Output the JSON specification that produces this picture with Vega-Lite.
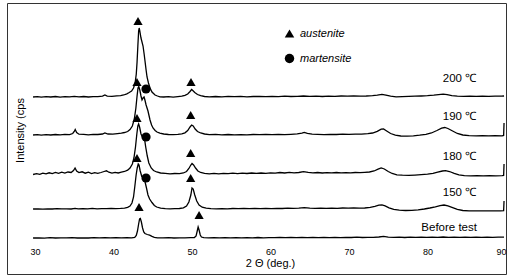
{
  "$schema": "https://vega.github.io/schema/vega-lite/v6.json",
  "width": 499,
  "height": 271,
  "autosize": {"type": "none"},
  "padding": {"left": 7, "top": 3, "right": 2, "bottom": 5},
  "background": "white",
  "config": {"view": {"stroke": "#333333", "strokeWidth": 1}, "font": "Liberation Sans"},
  "datasets": {
    "xrd": [
      {"sample":"200","deg":29.75,"cps":177},{"sample":"200","deg":30.3,"cps":177.4},{"sample":"200","deg":30.8,"cps":176.8},{"sample":"200","deg":31.4,"cps":177.3},{"sample":"200","deg":32.0,"cps":177},{"sample":"200","deg":32.6,"cps":177.5},{"sample":"200","deg":33.2,"cps":176.9},{"sample":"200","deg":33.8,"cps":177.3},{"sample":"200","deg":34.4,"cps":177.1},{"sample":"200","deg":35.0,"cps":177.6},{"sample":"200","deg":35.6,"cps":177.2},{"sample":"200","deg":36.2,"cps":177.5},{"sample":"200","deg":36.8,"cps":177},{"sample":"200","deg":37.4,"cps":177.4},{"sample":"200","deg":38.0,"cps":177.3},{"sample":"200","deg":38.6,"cps":177.8},{"sample":"200","deg":38.9,"cps":179},{"sample":"200","deg":39.2,"cps":177.8},{"sample":"200","deg":39.8,"cps":177.6},{"sample":"200","deg":40.4,"cps":178.2},{"sample":"200","deg":40.9,"cps":178.3},{"sample":"200","deg":41.3,"cps":179},{"sample":"200","deg":41.7,"cps":180.2},{"sample":"200","deg":42.0,"cps":181.5},{"sample":"200","deg":42.3,"cps":183},{"sample":"200","deg":42.55,"cps":186},{"sample":"200","deg":42.75,"cps":191},{"sample":"200","deg":42.9,"cps":200},{"sample":"200","deg":43.0,"cps":212},{"sample":"200","deg":43.1,"cps":228},{"sample":"200","deg":43.2,"cps":243},{"sample":"200","deg":43.27,"cps":246},{"sample":"200","deg":43.35,"cps":243},{"sample":"200","deg":43.5,"cps":236},{"sample":"200","deg":43.76,"cps":228},{"sample":"200","deg":43.9,"cps":220},{"sample":"200","deg":44.01,"cps":213},{"sample":"200","deg":44.15,"cps":204},{"sample":"200","deg":44.27,"cps":197},{"sample":"200","deg":44.45,"cps":191},{"sample":"200","deg":44.65,"cps":186},{"sample":"200","deg":44.9,"cps":182},{"sample":"200","deg":45.29,"cps":179},{"sample":"200","deg":45.6,"cps":178},{"sample":"200","deg":45.92,"cps":177.2},{"sample":"200","deg":46.4,"cps":177},{"sample":"200","deg":47.0,"cps":177.3},{"sample":"200","deg":47.6,"cps":176.9},{"sample":"200","deg":48.2,"cps":177.4},{"sample":"200","deg":48.7,"cps":177.8},{"sample":"200","deg":49.1,"cps":178.6},{"sample":"200","deg":49.45,"cps":180},{"sample":"200","deg":49.75,"cps":182.5},{"sample":"200","deg":49.95,"cps":184.5},{"sample":"200","deg":50.1,"cps":183.5},{"sample":"200","deg":50.35,"cps":181.5},{"sample":"200","deg":50.7,"cps":179.5},{"sample":"200","deg":51.1,"cps":178.3},{"sample":"200","deg":51.6,"cps":177.5},{"sample":"200","deg":52.2,"cps":177.2},{"sample":"200","deg":53.0,"cps":177.5},{"sample":"200","deg":53.8,"cps":177.1},{"sample":"200","deg":54.6,"cps":177.6},{"sample":"200","deg":55.4,"cps":177.3},{"sample":"200","deg":56.2,"cps":177.6},{"sample":"200","deg":57.0,"cps":177.2},{"sample":"200","deg":57.8,"cps":177.5},{"sample":"200","deg":58.6,"cps":177.7},{"sample":"200","deg":59.4,"cps":177.3},{"sample":"200","deg":60.2,"cps":177.6},{"sample":"200","deg":61.0,"cps":177.4},{"sample":"200","deg":61.8,"cps":177.8},{"sample":"200","deg":62.6,"cps":177.5},{"sample":"200","deg":63.4,"cps":177.7},{"sample":"200","deg":64.2,"cps":178},{"sample":"200","deg":65.0,"cps":177.6},{"sample":"200","deg":65.8,"cps":177.8},{"sample":"200","deg":66.6,"cps":177.5},{"sample":"200","deg":67.4,"cps":177.9},{"sample":"200","deg":68.2,"cps":177.7},{"sample":"200","deg":69.0,"cps":178},{"sample":"200","deg":69.8,"cps":177.8},{"sample":"200","deg":70.6,"cps":178.1},{"sample":"200","deg":71.4,"cps":177.9},{"sample":"200","deg":72.2,"cps":178},{"sample":"200","deg":73.0,"cps":178.3},{"sample":"200","deg":73.6,"cps":178.8},{"sample":"200","deg":74.2,"cps":179.6},{"sample":"200","deg":74.7,"cps":178.8},{"sample":"200","deg":75.3,"cps":177.8},{"sample":"200","deg":76.0,"cps":177.2},{"sample":"200","deg":76.8,"cps":177.4},{"sample":"200","deg":77.6,"cps":177.6},{"sample":"200","deg":78.4,"cps":177.8},{"sample":"200","deg":79.2,"cps":178},{"sample":"200","deg":80.0,"cps":178.3},{"sample":"200","deg":80.8,"cps":178.8},{"sample":"200","deg":81.4,"cps":179.3},{"sample":"200","deg":82.0,"cps":179.8},{"sample":"200","deg":82.5,"cps":179.4},{"sample":"200","deg":83.1,"cps":178.4},{"sample":"200","deg":83.8,"cps":177.8},{"sample":"200","deg":84.6,"cps":177.6},{"sample":"200","deg":85.4,"cps":177.8},{"sample":"200","deg":86.2,"cps":177.6},{"sample":"200","deg":87.0,"cps":177.9},{"sample":"200","deg":87.8,"cps":177.7},{"sample":"200","deg":88.6,"cps":177.9},{"sample":"200","deg":89.4,"cps":177.8},{"sample":"200","deg":89.75,"cps":178},

      {"sample":"190","deg":29.75,"cps":139},{"sample":"190","deg":30.3,"cps":139.4},{"sample":"190","deg":30.8,"cps":138.8},{"sample":"190","deg":31.4,"cps":139.3},{"sample":"190","deg":32.0,"cps":139},{"sample":"190","deg":32.6,"cps":139.5},{"sample":"190","deg":33.2,"cps":139.1},{"sample":"190","deg":33.8,"cps":139.6},{"sample":"190","deg":34.4,"cps":139.4},{"sample":"190","deg":34.8,"cps":140.5},{"sample":"190","deg":35.0,"cps":142.5},{"sample":"190","deg":35.12,"cps":144.5},{"sample":"190","deg":35.3,"cps":141.5},{"sample":"190","deg":35.6,"cps":139.8},{"sample":"190","deg":36.2,"cps":139.6},{"sample":"190","deg":36.8,"cps":139.2},{"sample":"190","deg":37.4,"cps":139.7},{"sample":"190","deg":38.0,"cps":139.5},{"sample":"190","deg":38.6,"cps":140},{"sample":"190","deg":38.9,"cps":141},{"sample":"190","deg":39.3,"cps":140},{"sample":"190","deg":39.9,"cps":139.8},{"sample":"190","deg":40.5,"cps":140.3},{"sample":"190","deg":41.0,"cps":140.8},{"sample":"190","deg":41.4,"cps":141.5},{"sample":"190","deg":41.8,"cps":142.5},{"sample":"190","deg":42.1,"cps":144.5},{"sample":"190","deg":42.4,"cps":148},{"sample":"190","deg":42.65,"cps":155},{"sample":"190","deg":42.85,"cps":166},{"sample":"190","deg":43.0,"cps":178},{"sample":"190","deg":43.12,"cps":186},{"sample":"190","deg":43.22,"cps":187.5},{"sample":"190","deg":43.35,"cps":184},{"sample":"190","deg":43.5,"cps":178},{"sample":"190","deg":43.63,"cps":174},{"sample":"190","deg":43.76,"cps":176},{"sample":"190","deg":43.89,"cps":177},{"sample":"190","deg":44.0,"cps":174},{"sample":"190","deg":44.15,"cps":169},{"sample":"190","deg":44.39,"cps":163},{"sample":"190","deg":44.65,"cps":154},{"sample":"190","deg":44.85,"cps":149},{"sample":"190","deg":45.03,"cps":146},{"sample":"190","deg":45.3,"cps":143.5},{"sample":"190","deg":45.54,"cps":142},{"sample":"190","deg":45.9,"cps":140.8},{"sample":"190","deg":46.4,"cps":140},{"sample":"190","deg":47.0,"cps":139.5},{"sample":"190","deg":47.6,"cps":139.3},{"sample":"190","deg":48.2,"cps":139.6},{"sample":"190","deg":48.7,"cps":140.2},{"sample":"190","deg":49.1,"cps":141.2},{"sample":"190","deg":49.45,"cps":143.5},{"sample":"190","deg":49.75,"cps":147},{"sample":"190","deg":49.95,"cps":149},{"sample":"190","deg":50.15,"cps":148},{"sample":"190","deg":50.4,"cps":145},{"sample":"190","deg":50.7,"cps":142.5},{"sample":"190","deg":51.1,"cps":141},{"sample":"190","deg":51.6,"cps":140},{"sample":"190","deg":52.2,"cps":139.4},{"sample":"190","deg":53.0,"cps":139.6},{"sample":"190","deg":53.8,"cps":139.2},{"sample":"190","deg":54.6,"cps":139.5},{"sample":"190","deg":55.4,"cps":139.1},{"sample":"190","deg":56.2,"cps":139.4},{"sample":"190","deg":57.0,"cps":139.2},{"sample":"190","deg":57.8,"cps":139.5},{"sample":"190","deg":58.6,"cps":139.3},{"sample":"190","deg":59.4,"cps":139.6},{"sample":"190","deg":60.2,"cps":139.4},{"sample":"190","deg":61.0,"cps":139.6},{"sample":"190","deg":61.8,"cps":139.3},{"sample":"190","deg":62.6,"cps":139.7},{"sample":"190","deg":63.4,"cps":140.2},{"sample":"190","deg":64.0,"cps":140.8},{"sample":"190","deg":64.3,"cps":141.5},{"sample":"190","deg":64.7,"cps":140.6},{"sample":"190","deg":65.3,"cps":139.8},{"sample":"190","deg":66.0,"cps":139.6},{"sample":"190","deg":66.8,"cps":139.4},{"sample":"190","deg":67.6,"cps":139.7},{"sample":"190","deg":68.4,"cps":139.5},{"sample":"190","deg":69.2,"cps":139.8},{"sample":"190","deg":70.0,"cps":139.6},{"sample":"190","deg":70.8,"cps":139.9},{"sample":"190","deg":71.6,"cps":139.8},{"sample":"190","deg":72.4,"cps":140.3},{"sample":"190","deg":73.0,"cps":141},{"sample":"190","deg":73.6,"cps":142.6},{"sample":"190","deg":74.1,"cps":144.8},{"sample":"190","deg":74.4,"cps":145},{"sample":"190","deg":74.8,"cps":143},{"sample":"190","deg":75.3,"cps":140.5},{"sample":"190","deg":75.9,"cps":138.8},{"sample":"190","deg":76.6,"cps":138},{"sample":"190","deg":77.4,"cps":137.8},{"sample":"190","deg":78.2,"cps":138.2},{"sample":"190","deg":79.0,"cps":138.8},{"sample":"190","deg":79.8,"cps":139.6},{"sample":"190","deg":80.5,"cps":141},{"sample":"190","deg":81.2,"cps":143.5},{"sample":"190","deg":81.8,"cps":145.8},{"sample":"190","deg":82.2,"cps":146.5},{"sample":"190","deg":82.6,"cps":145.5},{"sample":"190","deg":83.2,"cps":143},{"sample":"190","deg":83.8,"cps":140.5},{"sample":"190","deg":84.5,"cps":139},{"sample":"190","deg":85.3,"cps":138.3},{"sample":"190","deg":86.2,"cps":138.1},{"sample":"190","deg":87.0,"cps":138.3},{"sample":"190","deg":87.8,"cps":138.1},{"sample":"190","deg":88.6,"cps":138.3},{"sample":"190","deg":89.5,"cps":138.2},{"sample":"190","deg":89.7,"cps":138.6},{"sample":"190","deg":89.75,"cps":151},

      {"sample":"180","deg":29.75,"cps":99.5},{"sample":"180","deg":30.2,"cps":100.3},{"sample":"180","deg":30.6,"cps":99.6},{"sample":"180","deg":31.0,"cps":100.8},{"sample":"180","deg":31.4,"cps":100.1},{"sample":"180","deg":31.8,"cps":101.2},{"sample":"180","deg":32.2,"cps":100.4},{"sample":"180","deg":32.6,"cps":101.5},{"sample":"180","deg":33.0,"cps":100.6},{"sample":"180","deg":33.4,"cps":101.8},{"sample":"180","deg":33.8,"cps":100.9},{"sample":"180","deg":34.2,"cps":102},{"sample":"180","deg":34.6,"cps":101.5},{"sample":"180","deg":34.9,"cps":103.5},{"sample":"180","deg":35.1,"cps":106},{"sample":"180","deg":35.3,"cps":103},{"sample":"180","deg":35.6,"cps":101.4},{"sample":"180","deg":36.0,"cps":102.2},{"sample":"180","deg":36.4,"cps":100.8},{"sample":"180","deg":36.8,"cps":101.8},{"sample":"180","deg":37.2,"cps":100.5},{"sample":"180","deg":37.6,"cps":101.4},{"sample":"180","deg":38.0,"cps":100.6},{"sample":"180","deg":38.4,"cps":101.5},{"sample":"180","deg":38.8,"cps":102.5},{"sample":"180","deg":39.1,"cps":103.2},{"sample":"180","deg":39.4,"cps":101.8},{"sample":"180","deg":39.8,"cps":100.9},{"sample":"180","deg":40.2,"cps":101.6},{"sample":"180","deg":40.6,"cps":101},{"sample":"180","deg":41.0,"cps":101.8},{"sample":"180","deg":41.4,"cps":102.5},{"sample":"180","deg":41.8,"cps":103.8},{"sample":"180","deg":42.1,"cps":106},{"sample":"180","deg":42.4,"cps":110},{"sample":"180","deg":42.6,"cps":116},{"sample":"180","deg":42.8,"cps":127},{"sample":"180","deg":42.97,"cps":140},{"sample":"180","deg":43.1,"cps":148},{"sample":"180","deg":43.2,"cps":150},{"sample":"180","deg":43.32,"cps":147},{"sample":"180","deg":43.5,"cps":140},{"sample":"180","deg":43.65,"cps":137.5},{"sample":"180","deg":43.8,"cps":138},{"sample":"180","deg":43.95,"cps":135},{"sample":"180","deg":44.1,"cps":127},{"sample":"180","deg":44.3,"cps":118},{"sample":"180","deg":44.5,"cps":111},{"sample":"180","deg":44.8,"cps":106},{"sample":"180","deg":45.1,"cps":103.5},{"sample":"180","deg":45.5,"cps":102},{"sample":"180","deg":46.0,"cps":101},{"sample":"180","deg":46.6,"cps":100.6},{"sample":"180","deg":47.2,"cps":100.2},{"sample":"180","deg":47.8,"cps":100.5},{"sample":"180","deg":48.4,"cps":100.3},{"sample":"180","deg":48.9,"cps":101},{"sample":"180","deg":49.3,"cps":102.5},{"sample":"180","deg":49.6,"cps":105.5},{"sample":"180","deg":49.85,"cps":109},{"sample":"180","deg":50.0,"cps":110.5},{"sample":"180","deg":50.2,"cps":109},{"sample":"180","deg":50.45,"cps":106},{"sample":"180","deg":50.75,"cps":103},{"sample":"180","deg":51.1,"cps":101.5},{"sample":"180","deg":51.6,"cps":100.6},{"sample":"180","deg":52.2,"cps":100.2},{"sample":"180","deg":52.8,"cps":100.6},{"sample":"180","deg":53.4,"cps":100.2},{"sample":"180","deg":54.0,"cps":100.7},{"sample":"180","deg":54.6,"cps":100.3},{"sample":"180","deg":55.2,"cps":100.8},{"sample":"180","deg":55.8,"cps":100.4},{"sample":"180","deg":56.4,"cps":100.9},{"sample":"180","deg":57.0,"cps":100.5},{"sample":"180","deg":57.6,"cps":101},{"sample":"180","deg":58.2,"cps":100.6},{"sample":"180","deg":58.8,"cps":101},{"sample":"180","deg":59.4,"cps":100.7},{"sample":"180","deg":60.0,"cps":101.2},{"sample":"180","deg":60.6,"cps":100.8},{"sample":"180","deg":61.2,"cps":101.5},{"sample":"180","deg":61.8,"cps":101},{"sample":"180","deg":62.4,"cps":101.7},{"sample":"180","deg":63.0,"cps":101.2},{"sample":"180","deg":63.6,"cps":101.5},{"sample":"180","deg":64.2,"cps":102.3},{"sample":"180","deg":64.8,"cps":101.6},{"sample":"180","deg":65.4,"cps":101.1},{"sample":"180","deg":66.0,"cps":101.5},{"sample":"180","deg":66.6,"cps":101},{"sample":"180","deg":67.2,"cps":101.4},{"sample":"180","deg":67.8,"cps":101.1},{"sample":"180","deg":68.4,"cps":101.5},{"sample":"180","deg":69.0,"cps":101.2},{"sample":"180","deg":69.6,"cps":101.4},{"sample":"180","deg":70.2,"cps":101.1},{"sample":"180","deg":70.8,"cps":101.5},{"sample":"180","deg":71.4,"cps":101.3},{"sample":"180","deg":72.0,"cps":101.6},{"sample":"180","deg":72.6,"cps":102},{"sample":"180","deg":73.2,"cps":103},{"sample":"180","deg":73.7,"cps":104.8},{"sample":"180","deg":74.1,"cps":106},{"sample":"180","deg":74.5,"cps":105},{"sample":"180","deg":75.0,"cps":102.5},{"sample":"180","deg":75.5,"cps":100.5},{"sample":"180","deg":76.1,"cps":99.2},{"sample":"180","deg":76.8,"cps":98.8},{"sample":"180","deg":77.6,"cps":98.6},{"sample":"180","deg":78.4,"cps":98.9},{"sample":"180","deg":79.2,"cps":99.3},{"sample":"180","deg":80.0,"cps":99.8},{"sample":"180","deg":80.7,"cps":100.6},{"sample":"180","deg":81.3,"cps":101.8},{"sample":"180","deg":81.9,"cps":103},{"sample":"180","deg":82.3,"cps":103.4},{"sample":"180","deg":82.8,"cps":102.5},{"sample":"180","deg":83.4,"cps":100.6},{"sample":"180","deg":84.0,"cps":99.2},{"sample":"180","deg":84.7,"cps":98.4},{"sample":"180","deg":85.5,"cps":98.2},{"sample":"180","deg":86.3,"cps":98.3},{"sample":"180","deg":87.1,"cps":98.1},{"sample":"180","deg":87.9,"cps":98.3},{"sample":"180","deg":88.7,"cps":98.2},{"sample":"180","deg":89.5,"cps":98.3},{"sample":"180","deg":89.7,"cps":98.5},{"sample":"180","deg":89.75,"cps":110},

      {"sample":"150","deg":29.75,"cps":65},{"sample":"150","deg":30.4,"cps":65.2},{"sample":"150","deg":31.0,"cps":64.9},{"sample":"150","deg":31.6,"cps":65.1},{"sample":"150","deg":32.2,"cps":65},{"sample":"150","deg":32.8,"cps":65.3},{"sample":"150","deg":33.4,"cps":65.1},{"sample":"150","deg":34.0,"cps":65.2},{"sample":"150","deg":34.6,"cps":65},{"sample":"150","deg":35.1,"cps":65.6},{"sample":"150","deg":35.5,"cps":65.1},{"sample":"150","deg":36.1,"cps":65.3},{"sample":"150","deg":36.7,"cps":65.1},{"sample":"150","deg":37.3,"cps":65.6},{"sample":"150","deg":37.9,"cps":65.2},{"sample":"150","deg":38.5,"cps":65.4},{"sample":"150","deg":39.1,"cps":65.3},{"sample":"150","deg":39.7,"cps":65.5},{"sample":"150","deg":40.3,"cps":65.4},{"sample":"150","deg":40.9,"cps":65.6},{"sample":"150","deg":41.4,"cps":65.9},{"sample":"150","deg":41.8,"cps":66.6},{"sample":"150","deg":42.1,"cps":68},{"sample":"150","deg":42.35,"cps":71},{"sample":"150","deg":42.55,"cps":77},{"sample":"150","deg":42.72,"cps":88},{"sample":"150","deg":42.88,"cps":99},{"sample":"150","deg":43.02,"cps":106},{"sample":"150","deg":43.15,"cps":110},{"sample":"150","deg":43.25,"cps":109},{"sample":"150","deg":43.4,"cps":103},{"sample":"150","deg":43.6,"cps":97.5},{"sample":"150","deg":43.75,"cps":97},{"sample":"150","deg":43.9,"cps":96.5},{"sample":"150","deg":44.05,"cps":91},{"sample":"150","deg":44.2,"cps":86},{"sample":"150","deg":44.39,"cps":79},{"sample":"150","deg":44.6,"cps":75},{"sample":"150","deg":44.9,"cps":71.5},{"sample":"150","deg":45.2,"cps":68.5},{"sample":"150","deg":45.5,"cps":67},{"sample":"150","deg":46.0,"cps":65.8},{"sample":"150","deg":46.6,"cps":65.4},{"sample":"150","deg":47.2,"cps":65.2},{"sample":"150","deg":47.8,"cps":65.3},{"sample":"150","deg":48.4,"cps":65.5},{"sample":"150","deg":48.9,"cps":66.2},{"sample":"150","deg":49.3,"cps":68},{"sample":"150","deg":49.6,"cps":72},{"sample":"150","deg":49.85,"cps":79},{"sample":"150","deg":50.0,"cps":86},{"sample":"150","deg":50.15,"cps":85},{"sample":"150","deg":50.35,"cps":79},{"sample":"150","deg":50.6,"cps":73},{"sample":"150","deg":50.9,"cps":69},{"sample":"150","deg":51.3,"cps":66.8},{"sample":"150","deg":51.8,"cps":65.8},{"sample":"150","deg":52.4,"cps":65.4},{"sample":"150","deg":53.1,"cps":65.2},{"sample":"150","deg":53.8,"cps":65.4},{"sample":"150","deg":54.5,"cps":65.2},{"sample":"150","deg":55.2,"cps":65.5},{"sample":"150","deg":55.9,"cps":65.3},{"sample":"150","deg":56.6,"cps":65.6},{"sample":"150","deg":57.3,"cps":65.3},{"sample":"150","deg":58.0,"cps":65.6},{"sample":"150","deg":58.7,"cps":65.4},{"sample":"150","deg":59.4,"cps":65.7},{"sample":"150","deg":60.1,"cps":65.4},{"sample":"150","deg":60.8,"cps":65.7},{"sample":"150","deg":61.5,"cps":65.5},{"sample":"150","deg":62.2,"cps":65.8},{"sample":"150","deg":62.9,"cps":65.6},{"sample":"150","deg":63.6,"cps":65.9},{"sample":"150","deg":64.3,"cps":66.4},{"sample":"150","deg":65.0,"cps":65.8},{"sample":"150","deg":65.7,"cps":65.6},{"sample":"150","deg":66.4,"cps":65.9},{"sample":"150","deg":67.1,"cps":65.6},{"sample":"150","deg":67.8,"cps":65.9},{"sample":"150","deg":68.5,"cps":65.7},{"sample":"150","deg":69.2,"cps":66},{"sample":"150","deg":69.9,"cps":65.8},{"sample":"150","deg":70.6,"cps":66},{"sample":"150","deg":71.3,"cps":65.8},{"sample":"150","deg":72.0,"cps":66},{"sample":"150","deg":72.7,"cps":66.6},{"sample":"150","deg":73.3,"cps":67.6},{"sample":"150","deg":73.8,"cps":68.8},{"sample":"150","deg":74.2,"cps":69.2},{"sample":"150","deg":74.6,"cps":68.2},{"sample":"150","deg":75.1,"cps":66.2},{"sample":"150","deg":75.7,"cps":64.6},{"sample":"150","deg":76.4,"cps":63.8},{"sample":"150","deg":77.2,"cps":63.5},{"sample":"150","deg":78.0,"cps":63.7},{"sample":"150","deg":78.8,"cps":64.2},{"sample":"150","deg":79.6,"cps":65},{"sample":"150","deg":80.3,"cps":66},{"sample":"150","deg":81.0,"cps":67.2},{"sample":"150","deg":81.6,"cps":68.4},{"sample":"150","deg":82.1,"cps":69},{"sample":"150","deg":82.6,"cps":68.2},{"sample":"150","deg":83.2,"cps":66.4},{"sample":"150","deg":83.8,"cps":64.6},{"sample":"150","deg":84.5,"cps":63.5},{"sample":"150","deg":85.3,"cps":63.1},{"sample":"150","deg":86.1,"cps":63.2},{"sample":"150","deg":86.9,"cps":63.1},{"sample":"150","deg":87.7,"cps":63.2},{"sample":"150","deg":88.5,"cps":63.1},{"sample":"150","deg":89.3,"cps":63.2},{"sample":"150","deg":89.7,"cps":63.4},{"sample":"150","deg":89.75,"cps":73},

      {"sample":"before","deg":29.75,"cps":36},{"sample":"before","deg":30.5,"cps":36.2},{"sample":"before","deg":31.2,"cps":35.9},{"sample":"before","deg":31.9,"cps":36.3},{"sample":"before","deg":32.6,"cps":36},{"sample":"before","deg":33.3,"cps":36.2},{"sample":"before","deg":34.0,"cps":36.1},{"sample":"before","deg":34.7,"cps":36.3},{"sample":"before","deg":35.4,"cps":36},{"sample":"before","deg":36.1,"cps":36.2},{"sample":"before","deg":36.8,"cps":36},{"sample":"before","deg":37.5,"cps":36.3},{"sample":"before","deg":38.2,"cps":36.1},{"sample":"before","deg":38.9,"cps":36.3},{"sample":"before","deg":39.6,"cps":36.1},{"sample":"before","deg":40.3,"cps":36.3},{"sample":"before","deg":41.0,"cps":36.1},{"sample":"before","deg":41.7,"cps":36.3},{"sample":"before","deg":42.3,"cps":36.2},{"sample":"before","deg":42.7,"cps":36.6},{"sample":"before","deg":42.9,"cps":38.5},{"sample":"before","deg":43.05,"cps":43},{"sample":"before","deg":43.2,"cps":50},{"sample":"before","deg":43.32,"cps":55},{"sample":"before","deg":43.42,"cps":55.5},{"sample":"before","deg":43.55,"cps":52},{"sample":"before","deg":43.7,"cps":46},{"sample":"before","deg":43.85,"cps":42},{"sample":"before","deg":44.0,"cps":40.5},{"sample":"before","deg":44.3,"cps":39.5},{"sample":"before","deg":44.6,"cps":38.8},{"sample":"before","deg":44.9,"cps":37.6},{"sample":"before","deg":45.2,"cps":36.6},{"sample":"before","deg":45.6,"cps":36.2},{"sample":"before","deg":46.3,"cps":36.1},{"sample":"before","deg":47.0,"cps":36.3},{"sample":"before","deg":47.7,"cps":36},{"sample":"before","deg":48.4,"cps":36.2},{"sample":"before","deg":49.1,"cps":36.1},{"sample":"before","deg":49.8,"cps":36.3},{"sample":"before","deg":50.3,"cps":36.4},{"sample":"before","deg":50.52,"cps":38},{"sample":"before","deg":50.65,"cps":42.5},{"sample":"before","deg":50.78,"cps":47},{"sample":"before","deg":50.9,"cps":44},{"sample":"before","deg":51.05,"cps":39},{"sample":"before","deg":51.2,"cps":37},{"sample":"before","deg":51.5,"cps":36.3},{"sample":"before","deg":52.1,"cps":36.1},{"sample":"before","deg":52.8,"cps":36.3},{"sample":"before","deg":53.5,"cps":36.1},{"sample":"before","deg":54.2,"cps":36.3},{"sample":"before","deg":54.9,"cps":36.2},{"sample":"before","deg":55.6,"cps":36.4},{"sample":"before","deg":56.3,"cps":36.1},{"sample":"before","deg":57.0,"cps":36.3},{"sample":"before","deg":57.7,"cps":36.2},{"sample":"before","deg":58.4,"cps":36.5},{"sample":"before","deg":59.1,"cps":36.2},{"sample":"before","deg":59.8,"cps":36.4},{"sample":"before","deg":60.5,"cps":36.3},{"sample":"before","deg":61.2,"cps":36.6},{"sample":"before","deg":61.9,"cps":36.3},{"sample":"before","deg":62.6,"cps":36.5},{"sample":"before","deg":63.3,"cps":36.3},{"sample":"before","deg":64.0,"cps":36.6},{"sample":"before","deg":64.7,"cps":36.4},{"sample":"before","deg":65.4,"cps":36.6},{"sample":"before","deg":66.1,"cps":36.3},{"sample":"before","deg":66.8,"cps":36.6},{"sample":"before","deg":67.5,"cps":36.4},{"sample":"before","deg":68.2,"cps":36.7},{"sample":"before","deg":68.9,"cps":36.4},{"sample":"before","deg":69.6,"cps":36.7},{"sample":"before","deg":70.3,"cps":36.5},{"sample":"before","deg":71.0,"cps":36.8},{"sample":"before","deg":71.7,"cps":36.5},{"sample":"before","deg":72.4,"cps":36.7},{"sample":"before","deg":73.1,"cps":36.6},{"sample":"before","deg":73.8,"cps":37},{"sample":"before","deg":74.4,"cps":37.6},{"sample":"before","deg":75.0,"cps":36.9},{"sample":"before","deg":75.7,"cps":36.6},{"sample":"before","deg":76.4,"cps":36.8},{"sample":"before","deg":77.1,"cps":36.5},{"sample":"before","deg":77.8,"cps":36.8},{"sample":"before","deg":78.5,"cps":36.6},{"sample":"before","deg":79.2,"cps":36.8},{"sample":"before","deg":79.9,"cps":36.6},{"sample":"before","deg":80.6,"cps":36.9},{"sample":"before","deg":81.3,"cps":36.7},{"sample":"before","deg":82.0,"cps":37},{"sample":"before","deg":82.7,"cps":36.7},{"sample":"before","deg":83.4,"cps":36.9},{"sample":"before","deg":84.1,"cps":36.7},{"sample":"before","deg":84.8,"cps":36.9},{"sample":"before","deg":85.5,"cps":36.7},{"sample":"before","deg":86.2,"cps":36.9},{"sample":"before","deg":86.9,"cps":36.7},{"sample":"before","deg":87.6,"cps":36.9},{"sample":"before","deg":88.3,"cps":36.7},{"sample":"before","deg":89.0,"cps":36.9},{"sample":"before","deg":89.75,"cps":36.8}
    ],
    "phases": [
      {"phase":"austenite","deg":43.12,"cps":253},
      {"phase":"austenite","deg":49.87,"cps":192},
      {"phase":"austenite","deg":42.99,"cps":192},
      {"phase":"martensite","deg":44.14,"cps":185},
      {"phase":"austenite","deg":49.83,"cps":159},
      {"phase":"austenite","deg":42.99,"cps":156},
      {"phase":"martensite","deg":44.14,"cps":137},
      {"phase":"austenite","deg":49.83,"cps":121},
      {"phase":"austenite","deg":42.99,"cps":116},
      {"phase":"martensite","deg":44.14,"cps":96},
      {"phase":"austenite","deg":49.83,"cps":96},
      {"phase":"austenite","deg":43.25,"cps":67},
      {"phase":"austenite","deg":50.9,"cps":59}
    ],
    "labels": [
      {"label":"200 ℃","deg":86.2,"cps":195},
      {"label":"190 ℃","deg":86.2,"cps":157},
      {"label":"180 ℃","deg":86.2,"cps":117},
      {"label":"150 ℃","deg":86.2,"cps":81},
      {"label":"Before test","deg":86.3,"cps":46}
    ]
  },
  "layer": [
    {
      "data": {"name": "xrd"},
      "mark": {"type": "line", "color": "black", "strokeWidth": 1.3},
      "encoding": {
        "x": {"field": "deg", "type": "quantitative",
          "scale": {"domain": [26.43, 90], "nice": false, "zero": false},
          "axis": {"values": [30,40,50,60,70,80,90], "title": "2 Θ (deg.)", "domain": false, "ticks": false, "grid": false,
            "offset": -28, "labelPadding": 1, "labelFontSize": 9, "labelFlush": 1, "labelOverlap": false, "labelColor": "black",
            "titleFontSize": 11, "titleFontWeight": "normal", "titleColor": "black", "titleX": 263, "titleY": 11, "titleAlign": "center", "titleBaseline": "top"}},
        "y": {"field": "cps", "type": "quantitative",
          "scale": {"domain": [0, 271], "nice": false, "zero": false},
          "axis": {"domain": false, "ticks": false, "labels": false, "grid": false, "title": "Intensity (cps",
            "titleFontSize": 11, "titleFontWeight": "normal", "titleColor": "black", "titleAngle": -90,
            "titleX": 13, "titleY": 127, "titleAlign": "center", "titleBaseline": "middle"}},
        "detail": {"field": "sample"}
      }
    },
    {
      "data": {"name": "phases"},
      "mark": {"type": "point", "filled": true, "color": "black", "opacity": 1, "size": 85},
      "encoding": {
        "x": {"field": "deg", "type": "quantitative"},
        "y": {"field": "cps", "type": "quantitative"},
        "shape": {"field": "phase", "type": "nominal",
          "scale": {"domain": ["austenite", "martensite"], "range": ["triangle-up", "circle"]},
          "legend": {"orient": "none", "legendX": 277, "legendY": 25, "title": null, "padding": 0,
            "labelFontSize": 11, "labelFontStyle": "italic", "labelColor": "black", "symbolSize": 90,
            "symbolFillColor": "black", "symbolStrokeColor": "black", "rowPadding": 9, "labelOffset": 5}}
      }
    },
    {
      "data": {"name": "labels"},
      "mark": {"type": "text", "align": "right", "baseline": "middle", "fontSize": 11.5, "color": "black"},
      "encoding": {
        "x": {"field": "deg", "type": "quantitative"},
        "y": {"field": "cps", "type": "quantitative"},
        "text": {"field": "label"}
      }
    }
  ]
}
